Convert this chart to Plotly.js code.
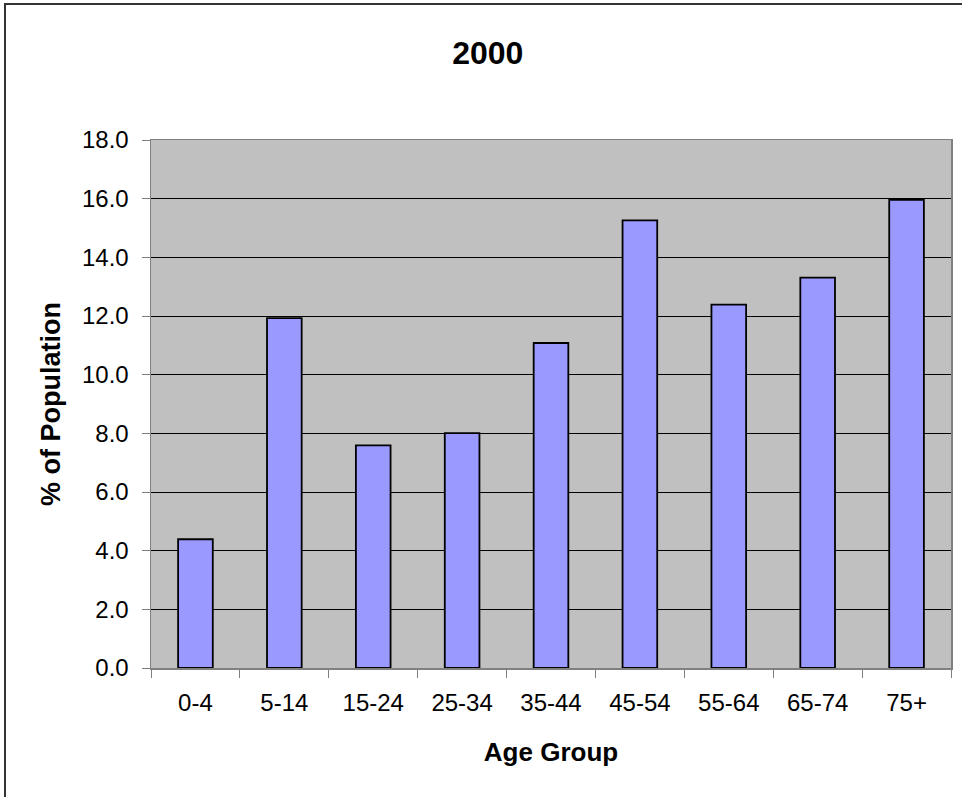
<!DOCTYPE html>
<html>
<head>
<meta charset="utf-8">
<script src="https://cdn.plot.ly/plotly-3.0.1.min.js"></script>
<style>
  html, body { margin: 0; padding: 0; background: #fff; overflow: hidden; }
  #frame { position: absolute; left: 4px; top: 3px; width: 1000px; height: 1000px; border-left: 2px solid #333; border-top: 2px solid #333; box-sizing: border-box; }
  #chart { position: absolute; left: 0; top: 0; width: 962px; height: 797px; }
</style>
</head>
<body>
<div id="frame"></div>
<div id="chart"></div>
<script>
const categories = ["0-4", "5-14", "15-24", "25-34", "35-44", "45-54", "55-64", "65-74", "75+"];
const percentPopulation = [4.39, 11.93, 7.59, 8.01, 11.08, 15.26, 12.39, 13.31, 15.96];
const yTickValues = [0, 2, 4, 6, 8, 10, 12, 14, 16, 18];
const yTickLabels = ["0.0", "2.0", "4.0", "6.0", "8.0", "10.0", "12.0", "14.0", "16.0", "18.0"];

const font = "Liberation Sans, Arial, sans-serif";

const trace = {
  type: "bar",
  x: categories,
  y: percentPopulation,
  width: 0.39,
  marker: { color: "#9999FF", line: { color: "#000000", width: 1.8 } },
  hoverinfo: "x+y"
};

const layout = {
  width: 962,
  height: 797,
  margin: { l: 151, r: 11, t: 140, b: 129 },
  paper_bgcolor: "rgba(0,0,0,0)",
  plot_bgcolor: "#C0C0C0",
  showlegend: false,
  title: {
    text: "<b>2000</b>",
    font: { family: font, size: 32, color: "#000" },
    x: 0.507, xref: "container", xanchor: "center",
    y: 0.934, yref: "container", yanchor: "middle"
  },
  xaxis: {
    type: "category",
    showline: true, linecolor: "#808080", linewidth: 1.5, mirror: true,
    ticks: "outside", tickson: "boundaries", ticklen: 8, tickcolor: "#808080", tickwidth: 1,
    ticklabelstandoff: 13,
    tickfont: { family: font, size: 24, color: "#000" },
    showgrid: false,
    title: { text: "<b>Age Group</b>", font: { family: font, size: 26, color: "#000" }, standoff: 27 }
  },
  yaxis: {
    range: [0, 18],
    tickvals: yTickValues,
    ticktext: yTickLabels,
    showline: true, linecolor: "#808080", linewidth: 1.5, mirror: true,
    ticks: "outside", ticklen: 8, tickcolor: "#808080", tickwidth: 1,
    ticklabelstandoff: 8,
    tickfont: { family: font, size: 24, color: "#000" },
    showgrid: true, gridcolor: "#000000", gridwidth: 1,
    zeroline: false,
    title: { text: "<b>% of Population</b>", font: { family: font, size: 27, color: "#000" }, standoff: 13 }
  }
};

Plotly.newPlot("chart", [trace], layout, { displayModeBar: false, staticPlot: true });
</script>
</body>
</html>
